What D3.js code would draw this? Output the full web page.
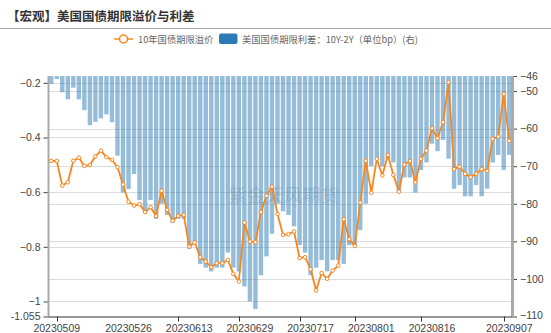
<!DOCTYPE html>
<html>
<head>
<meta charset="utf-8">
<script src="https://cdn.jsdelivr.net/npm/d3@7"></script>
<style>
  html, body { margin: 0; padding: 0; background: #fff; }
  svg { display: block; font-family: "Noto Sans CJK SC", "Noto Sans", sans-serif; }
</style>
</head>
<body>
<svg id="chart" width="551" height="333"></svg>
<script>
// Trading dates (category axis)
const dates = [
  "20230508","20230509","20230510","20230511","20230512","20230515","20230516","20230517","20230518","20230519",
  "20230522","20230523","20230524","20230525","20230526","20230530","20230531","20230601","20230602","20230605",
  "20230606","20230607","20230608","20230609","20230612","20230613","20230614","20230615","20230616","20230620",
  "20230621","20230622","20230623","20230626","20230627","20230628","20230629","20230630","20230703","20230705",
  "20230706","20230707","20230710","20230711","20230712","20230713","20230714","20230717","20230718","20230719",
  "20230720","20230721","20230724","20230725","20230726","20230727","20230728","20230731","20230801","20230802",
  "20230803","20230804","20230807","20230808","20230809","20230810","20230811","20230814","20230815","20230816",
  "20230817","20230818","20230821","20230822","20230823","20230824","20230828","20230829","20230830","20230831",
  "20230901","20230905","20230906","20230907"
];

// 10Y-2Y spread, bp (right axis)
const spread = [
  -48.1,-46.8,-50.3,-52.2,-49.1,-52.2,-55.1,-59.1,-58.2,-57.3,
  -56.2,-58.3,-67.2,-77.0,-76.1,-72.1,-79,-82,-79,-84,
  -80,-83,-85,-84,-84,-92,-90,-96,-97,-98,
  -97,-97,-93,-97,-98,-102,-106,-108,-99,-94,
  -88,-80,-82,-83,-86,-91,-93,-99,-97,-95,
  -98,-95,-95,-96,-91,-91,-87,-80,-70,-68,
  -70,-68,-69,-77,-73,-73,-77,-71,-69,-64,
  -66,-63,-68,-76,-75,-78,-78,-75,-78,-76,
  -69,-67,-71,-67
];

// 10Y term premium (left axis)
const premium = [
  -0.486,-0.486,-0.576,-0.564,-0.485,-0.474,-0.504,-0.501,-0.469,-0.448,
  -0.472,-0.482,-0.509,-0.572,-0.635,-0.649,-0.644,-0.673,-0.655,-0.687,
  -0.595,-0.665,-0.705,-0.687,-0.683,-0.799,-0.784,-0.838,-0.854,-0.874,
  -0.860,-0.860,-0.848,-0.899,-0.927,-0.711,-0.781,-0.783,-0.673,-0.613,
  -0.580,-0.680,-0.756,-0.754,-0.744,-0.841,-0.838,-0.882,-0.960,-0.896,
  -0.917,-0.887,-0.869,-0.699,-0.772,-0.797,-0.638,-0.485,-0.602,-0.478,
  -0.539,-0.464,-0.537,-0.598,-0.499,-0.486,-0.564,-0.478,-0.448,-0.366,
  -0.403,-0.344,-0.198,-0.516,-0.507,-0.533,-0.545,-0.533,-0.516,-0.522,
  -0.405,-0.397,-0.241,-0.412
];

const leftTicks  = [-0.2, -0.4, -0.6, -0.8, -1];
const leftMin = -1.055, leftMax = -0.175;
const rightTicks = [-46, -50, -60, -70, -80, -90, -100, -110];
const rightMin = -110, rightMax = -46;
const labelDates = ["20230509","20230526","20230613","20230629","20230717","20230801","20230816","20230907"];
const tickDates  = ["20230509","20230609","20230627","20230713","20230727","20230814","20230906"];

const title = "【宏观】美国国债期限溢价与利差";
const lineName = "10年国债期限溢价";
const barName = "美国国债期限利差：10Y-2Y（单位bp）(右)";
const watermark = "紫金天风期货";

const svg = d3.select("#chart");
const W = 551, H = 333;
const plot = { left: 48.5, right: 512, top: 76, bottom: 316.5 };

const lineColor = "#f7861f";
const barColor = "#2c7bb6";

// Title and separator
svg.append("text").attr("x", 7).attr("y", 21)
  .attr("font-size", 12.5).attr("font-weight", "bold").attr("fill", "#333")
  .text(title);
svg.append("line").attr("x1", 0).attr("x2", W).attr("y1", 28.5).attr("y2", 28.5)
  .attr("stroke", "#aaa").attr("stroke-width", 1);

// Legend
const lg = svg.append("g").attr("font-size", 9.3).attr("fill", "#666");
lg.append("line").attr("x1", 114).attr("x2", 133).attr("y1", 39).attr("y2", 39)
  .attr("stroke", lineColor).attr("stroke-width", 1.5);
lg.append("circle").attr("cx", 123.5).attr("cy", 39).attr("r", 4)
  .attr("fill", "#fff").attr("stroke", lineColor).attr("stroke-width", 1.5);
lg.append("text").attr("x", 138).attr("y", 42.5).text(lineName);
lg.append("rect").attr("x", 219).attr("y", 33.5).attr("width", 18.5).attr("height", 10.5)
  .attr("rx", 2).attr("fill", barColor);
lg.append("text").attr("x", 242).attr("y", 42.5).text(barName);

// Scales
const x = d3.scaleBand().domain(dates).range([plot.left, plot.right]).paddingInner(0.2).paddingOuter(0.1);
const xc = d => x(d) + x.bandwidth() / 2;
const yL = d3.scaleLinear().domain([leftMin, leftMax]).range([plot.bottom, plot.top]);
const yR = d3.scaleLinear().domain([rightMin, rightMax]).range([plot.bottom, plot.top]);

// Grid lines
const grid = svg.append("g").attr("stroke", "#dcdcdc").attr("stroke-width", 1);
leftTicks.forEach(t => grid.append("line")
  .attr("x1", plot.left).attr("x2", plot.right)
  .attr("y1", Math.round(yL(t)) + 0.5).attr("y2", Math.round(yL(t)) + 0.5));
rightTicks.filter(t => t !== rightMin && t !== rightMax).forEach(t => grid.append("line")
  .attr("x1", plot.left).attr("x2", plot.right)
  .attr("y1", Math.round(yR(t)) + 0.5).attr("y2", Math.round(yR(t)) + 0.5));

// Watermark
svg.append("text").attr("x", 284).attr("y", 202).attr("text-anchor", "middle")
  .attr("font-size", 18).attr("fill", "#999").attr("fill-opacity", 0.35)
  .attr("letter-spacing", 0.5).text(watermark);

// Bars hang from the top of the right axis down to the spread value
svg.append("g").selectAll("rect").data(dates).join("rect")
  .attr("x", d => x(d))
  .attr("width", x.bandwidth())
  .attr("y", yR(rightMax))
  .attr("height", (d, i) => yR(spread[i]) - yR(rightMax))
  .attr("fill", barColor).attr("fill-opacity", 0.5);

// Axes
const axL = d3.axisLeft(yL).tickValues(leftTicks.concat([leftMin])).tickSize(5).tickPadding(3)
  .tickFormat(d => d === leftMin ? "-1.055" : d3.format("")(d));
const gL = svg.append("g").attr("transform", `translate(${plot.left},0)`).call(axL);
const axR = d3.axisRight(yR).tickValues(rightTicks).tickSize(5).tickPadding(3);
const gR = svg.append("g").attr("transform", `translate(${plot.right},0)`).call(axR);
[gL, gR].forEach(g => {
  g.select(".domain").remove();
  g.selectAll(".tick line").attr("stroke", "#444");
  g.selectAll(".tick text").attr("fill", "#444").attr("font-size", 10.5)
    .attr("font-family", "Liberation Sans, Arial, sans-serif");
});
// keep the lowest right label clear of the date labels
gR.selectAll(".tick text").filter(d => d === rightMin).attr("dy", "0.2em");
svg.append("line").attr("x1", plot.left).attr("x2", plot.left)
  .attr("y1", plot.top).attr("y2", plot.bottom + 0.5)
  .attr("stroke", "#aaa").attr("stroke-width", 2);
svg.append("line").attr("x1", plot.right + 0.5).attr("x2", plot.right + 0.5)
  .attr("y1", plot.top).attr("y2", plot.bottom + 0.5)
  .attr("stroke", "#aaa").attr("stroke-width", 3);

// Bottom axis
const gB = svg.append("g");
gB.append("line").attr("x1", plot.left).attr("x2", plot.right)
  .attr("y1", plot.bottom + 0.5).attr("y2", plot.bottom + 0.5).attr("stroke", "#333");
gB.selectAll("line.tk").data(tickDates).join("line").attr("class", "tk")
  .attr("x1", d => Math.round(xc(d)) + 0.5).attr("x2", d => Math.round(xc(d)) + 0.5)
  .attr("y1", plot.bottom).attr("y2", plot.bottom + 5).attr("stroke", "#333");
gB.selectAll("text").data(labelDates).join("text")
  .attr("x", d => xc(d)).attr("y", 332).attr("text-anchor", "middle")
  .attr("font-size", 10.5).attr("fill", "#444")
  .attr("font-family", "Liberation Sans, Arial, sans-serif")
  .text(d => d);

// Term premium line with hollow markers
const line = d3.line().x((d, i) => xc(dates[i])).y(d => yL(d));
svg.append("path").datum(premium).attr("d", line)
  .attr("fill", "none").attr("stroke", lineColor).attr("stroke-width", 1.8)
  .attr("stroke-linejoin", "round");
svg.append("g").selectAll("circle").data(premium).join("circle")
  .attr("cx", (d, i) => xc(dates[i])).attr("cy", d => yL(d)).attr("r", 1.8)
  .attr("fill", "#fff").attr("stroke", lineColor).attr("stroke-width", 1);
</script>
</body>
</html>
